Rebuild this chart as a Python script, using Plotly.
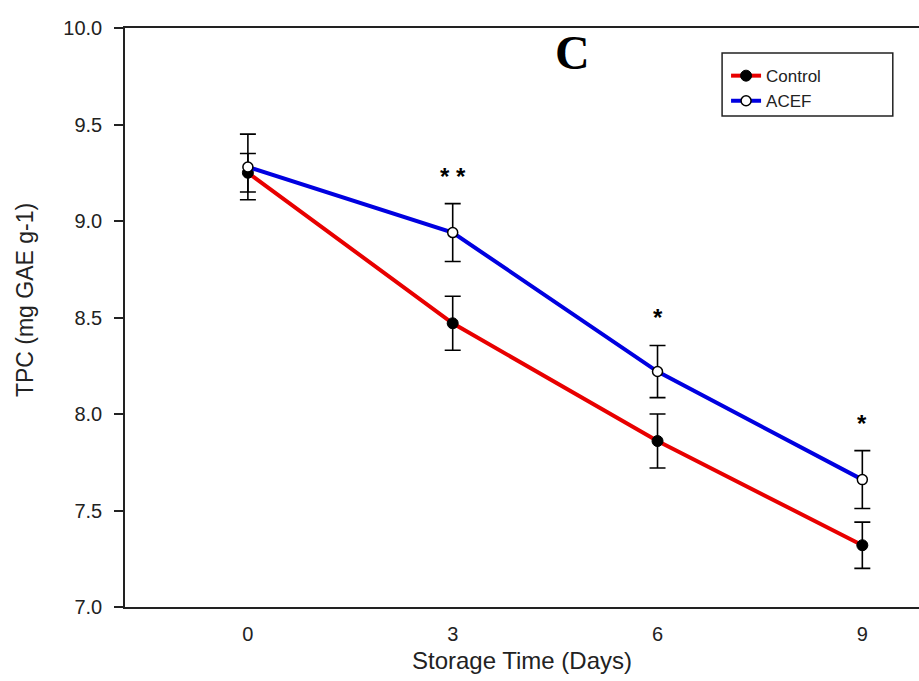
import plotly.graph_objects as go

days = [0, 3, 6, 9]
control_mean = [9.25, 8.47, 7.86, 7.32]
control_err = [0.10, 0.14, 0.14, 0.12]
acef_mean = [9.28, 8.94, 8.22, 7.66]
acef_err = [0.17, 0.15, 0.135, 0.15]
sig_labels = ["* *", "*", "*"]
sig_days = [3, 6, 9]
x_ticks = [0, 3, 6, 9]
y_ticks = [7.0, 7.5, 8.0, 8.5, 9.0, 9.5, 10.0]

FONT = "Liberation Sans, Arial, sans-serif"
TXT = "#222222"

fig = go.Figure()
fig.add_trace(go.Scatter(
    x=days, y=control_mean, mode="lines+markers", name="Control",
    line=dict(color="#e80000", width=4),
    marker=dict(color="black", size=11, line=dict(color="black", width=1)),
    error_y=dict(type="data", array=control_err, color="black", thickness=1.6, width=8),
))
fig.add_trace(go.Scatter(
    x=days, y=acef_mean, mode="lines+markers", name="ACEF",
    line=dict(color="#0000e0", width=4),
    marker=dict(color="white", size=10, line=dict(color="black", width=1.5)),
    error_y=dict(type="data", array=acef_err, color="black", thickness=1.6, width=8),
))

for lab, d in zip(sig_labels, sig_days):
    i = days.index(d)
    fig.add_annotation(x=d, y=acef_mean[i] + acef_err[i], text="<b>" + lab + "</b>",
                       showarrow=False, yanchor="bottom", yshift=12,
                       font=dict(family=FONT, size=24, color="black"))

fig.add_annotation(xref="paper", yref="paper", x=0.563, y=0.958, text="<b>C</b>",
                   xanchor="center", yanchor="middle",
                   showarrow=False, font=dict(family="Liberation Serif, Times New Roman, serif",
                                              size=48, color="black"))

# y-axis title
fig.add_annotation(xref="paper", yref="paper", x=-0.126, y=0.53, text="TPC (mg GAE g-1)",
                   textangle=-90, xanchor="center", yanchor="middle", showarrow=False,
                   font=dict(family=FONT, size=23, color=TXT))

# legend frame
fig.add_shape(type="rect", xref="paper", yref="paper", x0=0.752, x1=0.967, y0=0.848, y1=0.957,
              line=dict(color="#222222", width=1.5), fillcolor="white", layer="below")

fig.update_layout(
    width=919, height=681,
    margin=dict(l=125, r=0, t=28, b=74),
    plot_bgcolor="rgba(0,0,0,0)", paper_bgcolor="white",
    font=dict(family=FONT, color=TXT),
    showlegend=True,
    legend=dict(x=0.757, y=0.948, xanchor="left", yanchor="top",
                borderwidth=0, bgcolor="rgba(0,0,0,0)",
                font=dict(family=FONT, size=17, color=TXT),
                tracegroupgap=0, itemwidth=30),
    xaxis=dict(range=[-1.8, 9.83], tickvals=x_ticks, ticktext=[str(v) for v in x_ticks],
               showline=True, linecolor="#222222", linewidth=1.5, mirror=True,
               ticks="", showgrid=False, zeroline=False, ticklabelstandoff=8,
               tickfont=dict(family=FONT, size=20, color=TXT),
               title=dict(text="Storage Time (Days)", font=dict(family=FONT, size=24, color=TXT),
                          standoff=8)),
    yaxis=dict(range=[7.0, 10.0], tickvals=y_ticks, ticktext=[f"{v:.1f}" for v in y_ticks],
               showline=True, linecolor="#222222", linewidth=1.5,
               ticks="outside", ticklen=9, tickcolor="#222222", tickwidth=1.5,
               ticklabelstandoff=8,
               showgrid=False, zeroline=False,
               tickfont=dict(family=FONT, size=20, color=TXT)),
)

fig.write_html("out.html")
